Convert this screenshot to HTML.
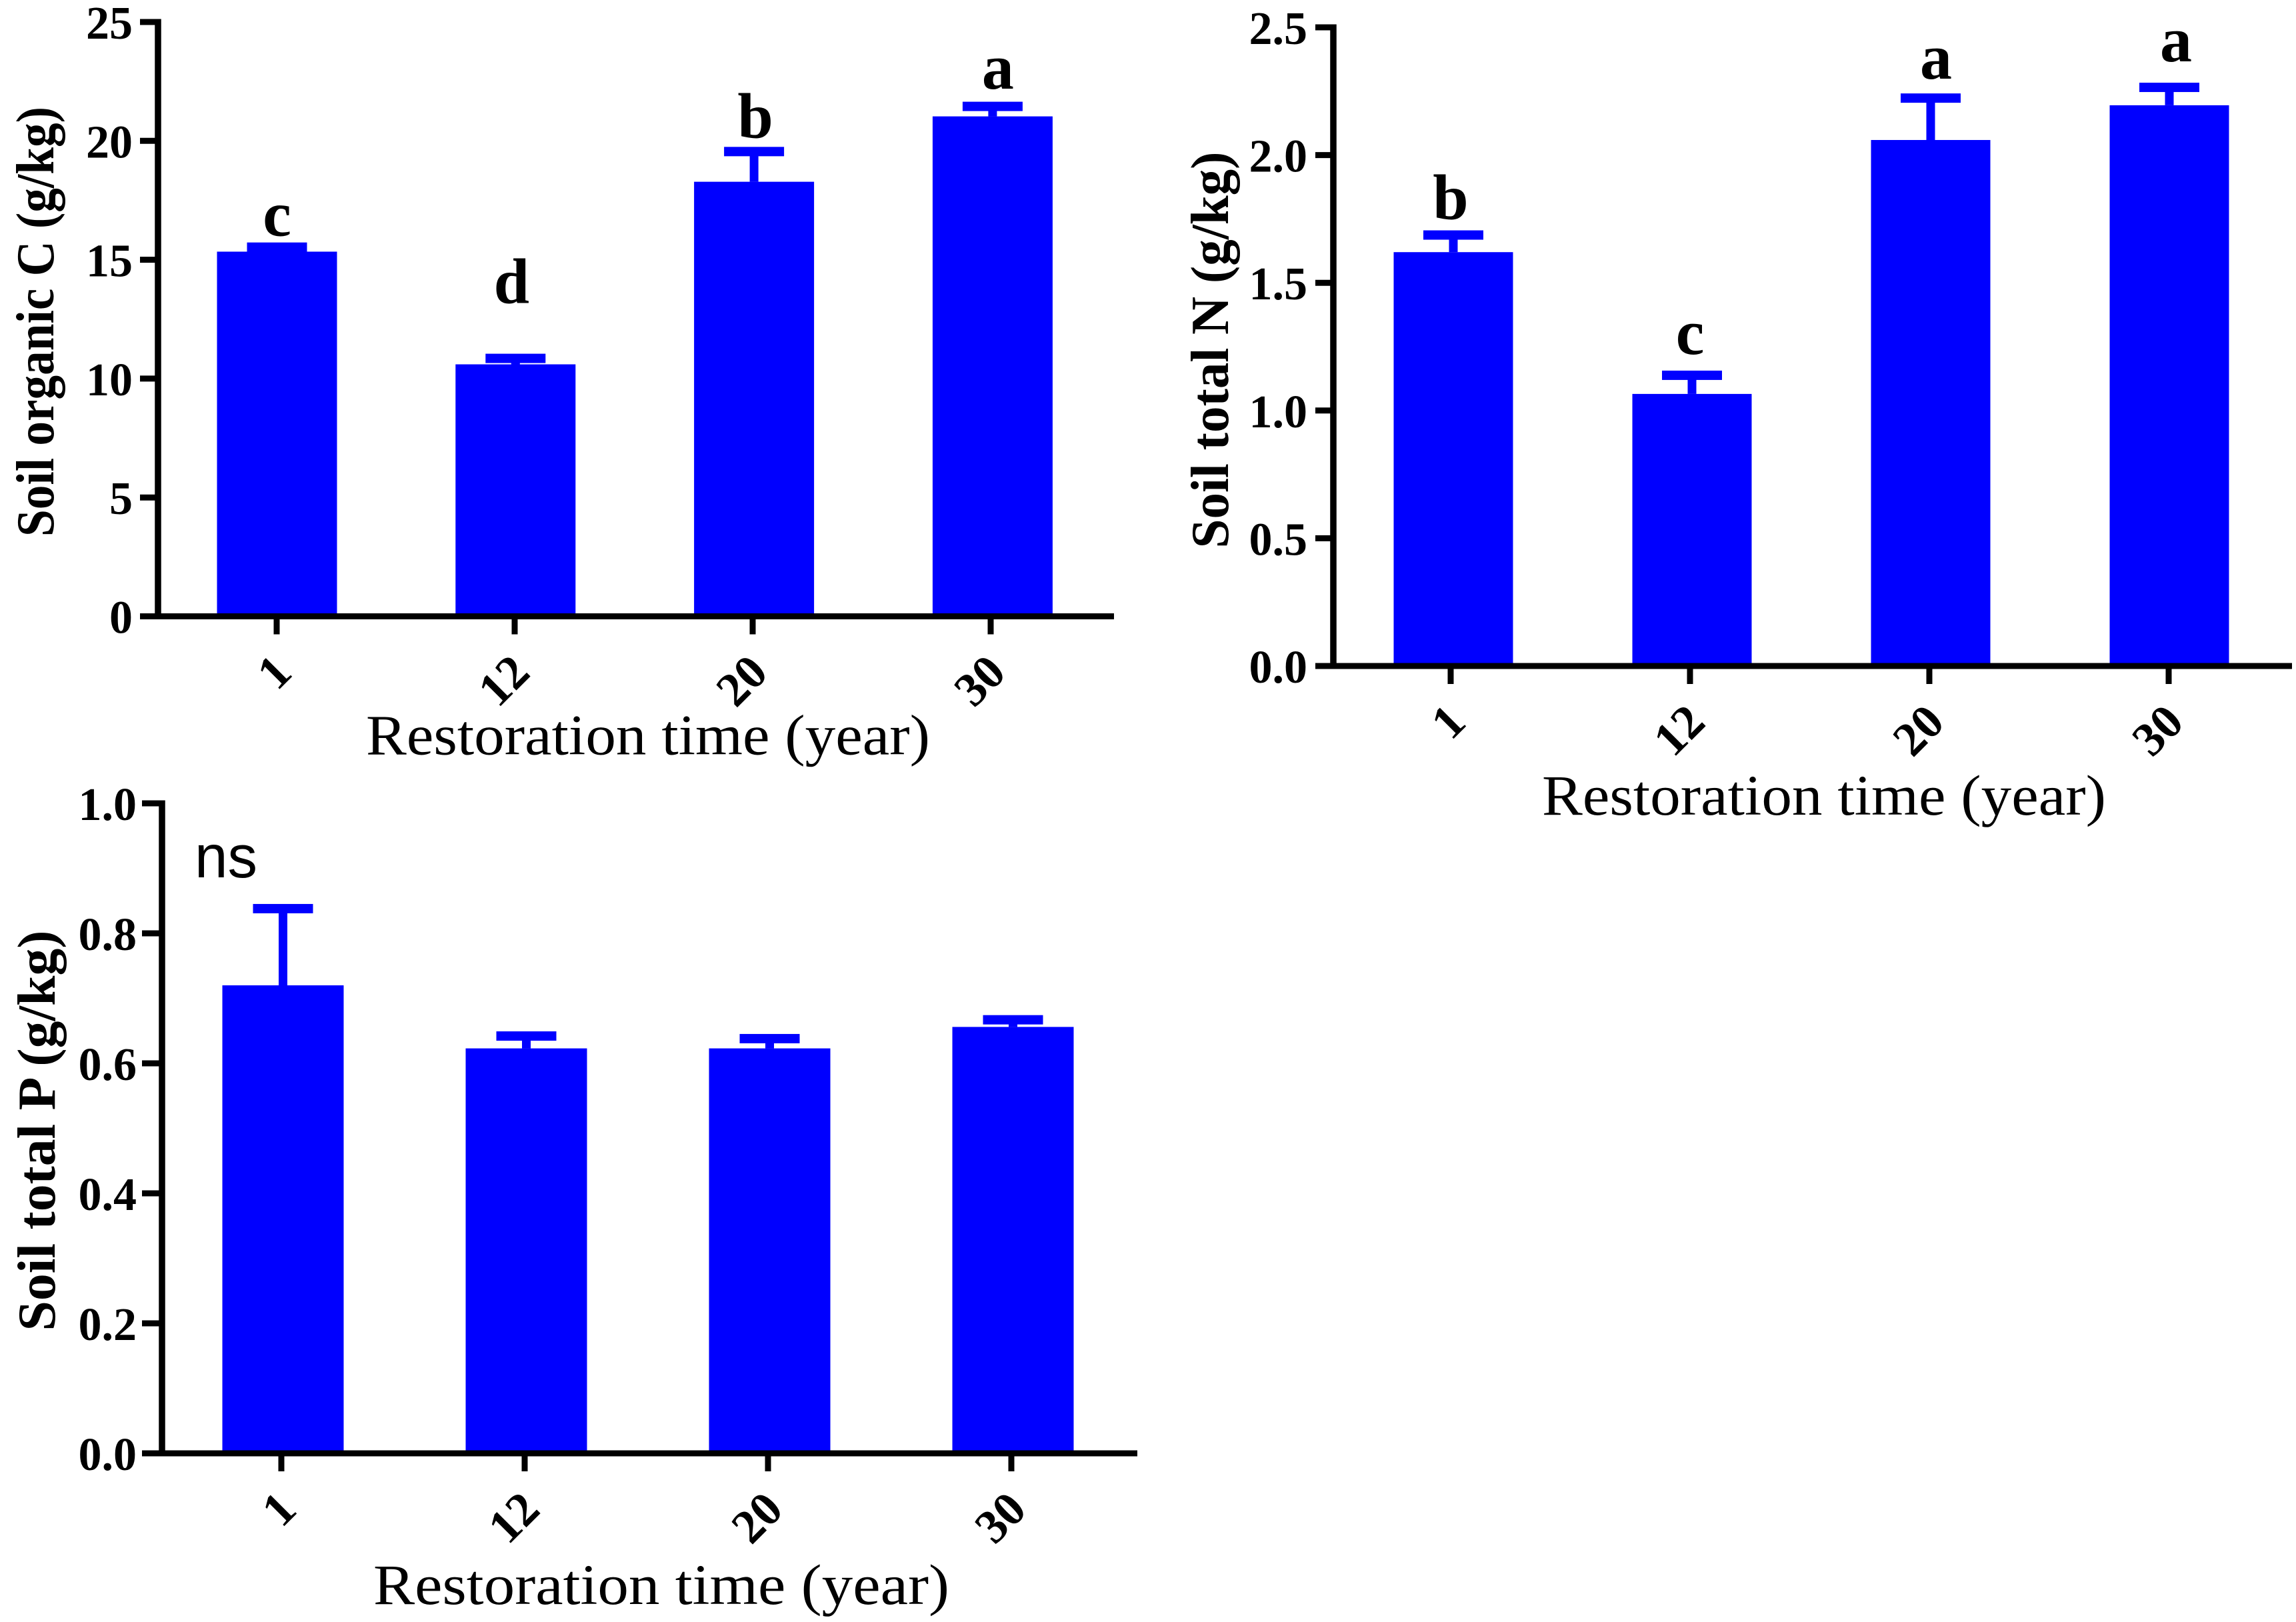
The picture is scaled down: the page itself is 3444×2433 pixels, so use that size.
<!DOCTYPE html>
<html lang="en">
<head>
<meta charset="utf-8">
<title>Soil nutrients by restoration time</title>
<style>
html,body{margin:0;padding:0;background:#fff;}
svg{display:block;}
.ytitle{font:bold 80px "Liberation Serif",serif;fill:#000;text-anchor:middle;}
.xtitle{font:86px "Liberation Serif",serif;fill:#000;text-anchor:middle;}
.ns{font:91px "Liberation Sans",sans-serif;fill:#000;}
.tick{font:bold 70px "Liberation Serif",serif;fill:#000;}
.xtick{font:bold 72px "Liberation Serif",serif;fill:#000;}
.letter{font:bold 96px "Liberation Serif",serif;fill:#000;text-anchor:middle;}
</style>
</head>
<body>
<svg id="figure" xmlns="http://www.w3.org/2000/svg" width="3444" height="2433" viewBox="0 0 3444 2433">
  <rect x="0" y="0" width="3444" height="2433" fill="#ffffff"/>
  <g id="panel-c"></g>
  <g id="panel-n"></g>
  <g id="panel-p"></g>
  <text class="ytitle" transform="translate(80 482.5) rotate(-90)" textLength="645" lengthAdjust="spacingAndGlyphs">Soil organic C (g/kg)</text>
  <text class="ytitle" transform="translate(1842 525) rotate(-90)" textLength="595" lengthAdjust="spacingAndGlyphs">Soil total N (g/kg)</text>
  <text class="ytitle" transform="translate(82 1696) rotate(-90)" textLength="601" lengthAdjust="spacingAndGlyphs">Soil total P (g/kg)</text>
  <text class="xtitle" x="972" y="1131.5" textLength="846" lengthAdjust="spacingAndGlyphs">Restoration time (year)</text>
  <text class="xtitle" x="2736" y="1222" textLength="846" lengthAdjust="spacingAndGlyphs">Restoration time (year)</text>
  <text class="xtitle" x="992" y="2406" textLength="864" lengthAdjust="spacingAndGlyphs">Restoration time (year)</text>
  <text class="ns" x="292" y="1316" textLength="94" lengthAdjust="spacingAndGlyphs">ns</text>
</svg>
<script>
const categories = ['1', '12', '20', '30'];

const carbonMeans = [15.34, 10.6, 18.28, 21.03];
const carbonUpper = [15.53, 10.85, 19.55, 21.45];
const carbonLetters = ['c', 'd', 'b', 'a'];
const carbonTickLabels = ['0', '5', '10', '15', '20', '25'];

const nitrogenMeans = [1.62, 1.065, 2.059, 2.195];
const nitrogenUpper = [1.687, 1.138, 2.223, 2.265];
const nitrogenLetters = ['b', 'c', 'a', 'a'];
const nitrogenTickLabels = ['0.0', '0.5', '1.0', '1.5', '2.0', '2.5'];

const phosphorusMeans = [0.72, 0.623, 0.623, 0.656];
const phosphorusUpper = [0.838, 0.642, 0.638, 0.667];
const phosphorusLetters = [];
const phosphorusTickLabels = ['0.0', '0.2', '0.4', '0.6', '0.8', '1.0'];

const SVG_NS = 'http://www.w3.org/2000/svg';
const BLUE = '#0000ff';

function shape(parent, tag, props) {
  const el = document.createElementNS(SVG_NS, tag);
  Object.keys(props).forEach(function (k) { el.setAttribute(k, props[k]); });
  parent.appendChild(el);
  return el;
}

function drawPanel(groupId, means, upper, letters, tickLabels, layout) {
  const group = document.getElementById(groupId);
  const yMax = parseFloat(tickLabels[tickLabels.length - 1]);
  const yScale = function (v) { return layout.base - (v / yMax) * (layout.base - layout.top); };
  const barX = function (i) { return layout.barX0 + i * layout.barStep; };
  const tickX = function (i) { return layout.tickX0 + i * layout.tickStep; };

  means.forEach(function (value, i) {
    const top = yScale(value);
    const capY = yScale(upper[i]);
    const bar = shape(group, 'rect', { x: barX(i) - layout.barW / 2, y: top, width: layout.barW, height: layout.base - top, fill: BLUE });
    
    
    const stem = shape(group, 'rect', { x: barX(i) - 6.5, y: capY, width: 13, height: Math.max(0, top - capY), fill: BLUE });
    
    
    const cap = shape(group, 'rect', { x: barX(i) - 45, y: capY - 7, width: 90, height: 14, fill: BLUE });
    
    
    if (letters[i]) {
      const letter = shape(group, 'text', { class: 'letter', x: barX(i) + layout.letterDx[i], y: capY - 7 - layout.letterGap[i] });
      
      
      letter.textContent = letters[i];
    }
  });

  const yAxis = shape(group, 'line', { x1: layout.axisX, x2: layout.axisX, y1: layout.top - 4.5, y2: layout.base + 4.5, stroke: '#000', 'stroke-width': 9.5 });
  
  
  const xAxis = shape(group, 'line', { x1: layout.tickLeft, x2: layout.axisEnd, y1: layout.base, y2: layout.base, stroke: '#000', 'stroke-width': 9 });
  
  

  tickLabels.forEach(function (label) {
    const y = yScale(parseFloat(label));
    const mark = shape(group, 'line', { x1: layout.tickLeft, x2: layout.axisX, y1: y, y2: y, stroke: '#000', 'stroke-width': 9 });
    
    
    const text = shape(group, 'text', { class: 'tick', x: layout.labelRight, y: y + 25, 'text-anchor': 'end' });
    
    
    text.textContent = label;
  });

  categories.forEach(function (label, i) {
    const x = tickX(i);
    const mark = shape(group, 'line', { x1: x, x2: x, y1: layout.base, y2: layout.base + 27, stroke: '#000', 'stroke-width': 9 });
    
    
    const ax = x + 9;
    const ay = layout.base + 71;
    const text = shape(group, 'text', { class: 'xtick', x: ax, y: ay, dy: '0.33em', 'text-anchor': 'end', transform: 'rotate(-45 ' + ax + ' ' + ay + ')' });
    
    
    text.textContent = label;
  });
}

drawPanel('panel-c', carbonMeans, carbonUpper, carbonLetters, carbonTickLabels, {
  axisX: 237, top: 33, base: 924.5, tickLeft: 210, axisEnd: 1671, labelRight: 199,
  barX0: 415.5, barStep: 357.8, barW: 180, tickX0: 415, tickStep: 357,
  letterDx: [0, -6, 2, 8], letterGap: [10, 76, 14, 19.5]
});
drawPanel('panel-n', nitrogenMeans, nitrogenUpper, nitrogenLetters, nitrogenTickLabels, {
  axisX: 2000, top: 41, base: 999, tickLeft: 1973, axisEnd: 3438, labelRight: 1961,
  barX0: 2180, barStep: 358, barW: 179, tickX0: 2176, tickStep: 359,
  letterDx: [-4, -3, 8, 10], letterGap: [17, 25, 22, 32]
});
drawPanel('panel-p', phosphorusMeans, phosphorusUpper, phosphorusLetters, phosphorusTickLabels, {
  axisX: 243, top: 1205, base: 2180, tickLeft: 213, axisEnd: 1706, labelRight: 205,
  barX0: 424.5, barStep: 365, barW: 182, tickX0: 422, tickStep: 365,
  letterDx: [], letterGap: []
});
</script>
</body>
</html>
